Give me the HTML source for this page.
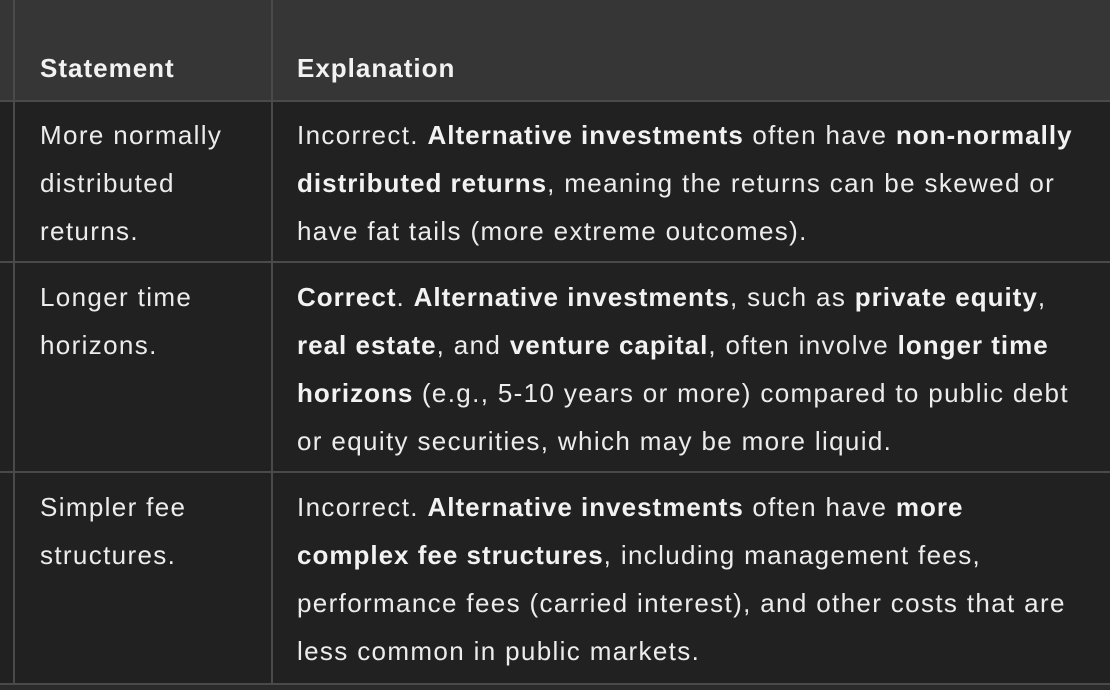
<!DOCTYPE html>
<html><head><meta charset="utf-8"><style>
html,body{margin:0;padding:0;}
body{width:1110px;height:690px;background:#212121;position:relative;overflow:hidden;font-family:"Liberation Sans",sans-serif;color:#ececec;font-size:26px;letter-spacing:1.35px;}
.hdr{position:absolute;left:0;top:0;width:1110px;height:100px;background:#363636;}
.h{position:absolute;background:#4a4a4a;height:2px;left:0;width:1110px;}
.v{position:absolute;background:#4a4a4a;width:2px;}
.l{position:absolute;line-height:48px;white-space:nowrap;}
b{font-weight:bold;color:#f2f2f2;letter-spacing:1px;}
.foot{position:absolute;left:0;top:685px;width:1110px;height:5px;background:#2a2a2a;}
</style></head><body>
<div class="hdr"></div>
<div class="h" style="top:100px"></div>
<div class="h" style="top:261px"></div>
<div class="h" style="top:471px"></div>
<div class="h" style="top:683px"></div>
<div class="foot"></div>
<div class="v" style="left:13px;top:0;height:685px"></div>
<div class="v" style="left:271px;top:0;height:685px"></div>

<div class="l" style="left:40px;top:44px"><b>Statement</b></div>
<div class="l" style="left:297px;top:44px"><b>Explanation</b></div>

<div>
<div class="l" style="left:40px;top:111px">More normally</div>
<div class="l" style="left:40px;top:159px">distributed</div>
<div class="l" style="left:40px;top:207px">returns.</div>
<div class="l" style="left:297px;top:111px">Incorrect. <b>Alternative investments</b> often have <b>non-normally</b></div>
<div class="l" style="left:297px;top:159px"><b>distributed returns</b>, meaning the returns can be skewed or</div>
<div class="l" style="left:297px;top:207px">have fat tails (more extreme outcomes).</div>
</div>

<div>
<div class="l" style="left:40px;top:273px">Longer time</div>
<div class="l" style="left:40px;top:321px">horizons.</div>
<div class="l" style="left:297px;top:273px"><b>Correct</b>. <b>Alternative investments</b>, such as <b>private equity</b>,</div>
<div class="l" style="left:297px;top:321px"><b>real estate</b>, and <b>venture capital</b>, often involve <b>longer time</b></div>
<div class="l" style="left:297px;top:369px"><b>horizons</b> (e.g., 5-10 years or more) compared to public debt</div>
<div class="l" style="left:297px;top:417px">or equity securities, which may be more liquid.</div>
</div>

<div>
<div class="l" style="left:40px;top:483px">Simpler fee</div>
<div class="l" style="left:40px;top:531px">structures.</div>
<div class="l" style="left:297px;top:483px">Incorrect. <b>Alternative investments</b> often have <b>more</b></div>
<div class="l" style="left:297px;top:531px"><b>complex fee structures</b>, including management fees,</div>
<div class="l" style="left:297px;top:579px">performance fees (carried interest), and other costs that are</div>
<div class="l" style="left:297px;top:627px">less common in public markets.</div>
</div>
</body></html>
